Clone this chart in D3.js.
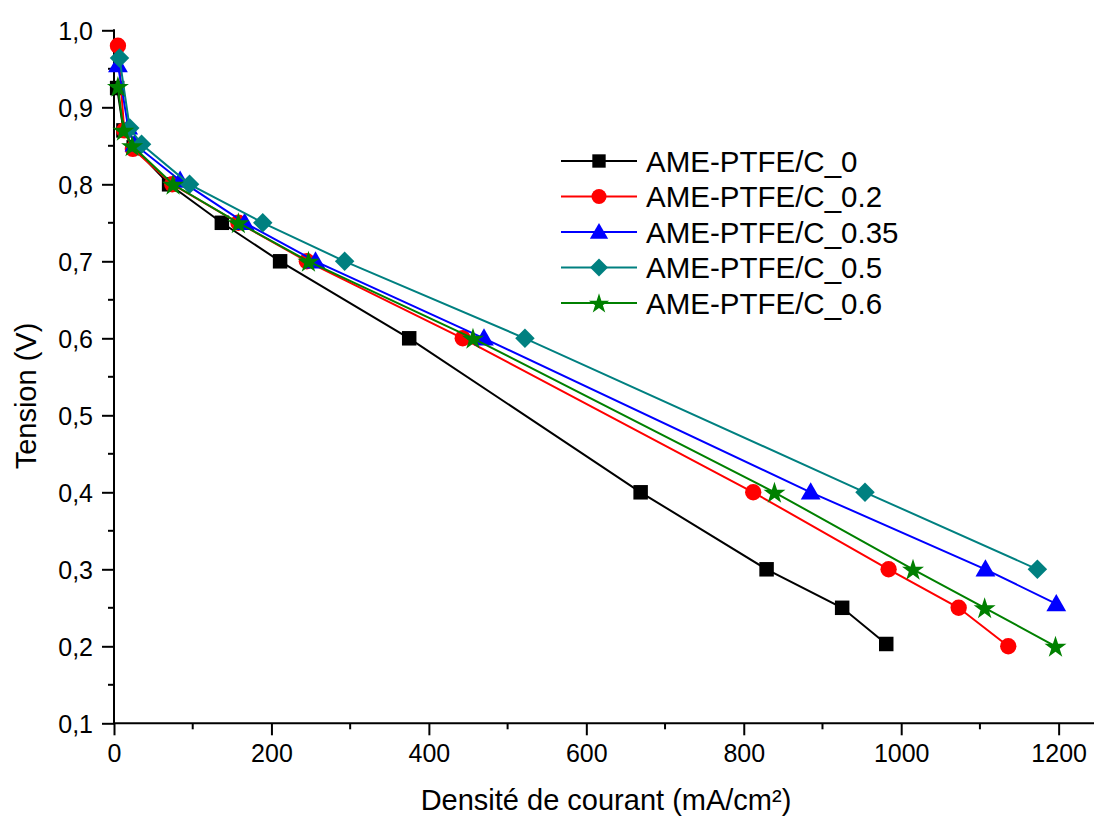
<!DOCTYPE html>
<html><head><meta charset="utf-8">
<script src="https://cdn.jsdelivr.net/npm/d3@7"></script>
<style>body{margin:0;background:#fff}svg{display:block}text{font-family:"Liberation Sans",Arial,sans-serif;fill:#000}</style>
</head><body><svg id="c" width="1094" height="820"></svg>
<script>
const seriesNames = ["AME-PTFE/C_0","AME-PTFE/C_0.2","AME-PTFE/C_0.35","AME-PTFE/C_0.5","AME-PTFE/C_0.6"];
const seriesColors = ["#000000","#ff0000","#0000ff","#008080","#008000"];
const current0   = [4, 12, 25, 70, 137, 211, 375, 669, 829, 925, 981];
const tension0   = [0.925, 0.87, 0.848, 0.80, 0.75, 0.70, 0.60, 0.40, 0.30, 0.25, 0.203];
const current02  = [5, 13, 24, 74, 158, 245, 443, 812, 984, 1073, 1136];
const tension02  = [0.98, 0.87, 0.846, 0.80, 0.75, 0.70, 0.60, 0.40, 0.30, 0.25, 0.20];
const current035 = [5, 18, 26, 84, 166, 256, 470, 885, 1107, 1197];
const tension035 = [0.955, 0.874, 0.852, 0.805, 0.75, 0.70, 0.60, 0.40, 0.30, 0.255];
const current05  = [7, 20, 35, 96, 189, 293, 522, 954, 1173];
const tension05  = [0.964, 0.873, 0.852, 0.80, 0.75, 0.70, 0.60, 0.40, 0.30];
const current06  = [5, 12, 23, 75, 158, 247, 456, 839, 1015, 1106, 1196];
const tension06  = [0.927, 0.87, 0.85, 0.80, 0.75, 0.70, 0.60, 0.40, 0.30, 0.25, 0.20];
const xTicks = [0, 200, 400, 600, 800, 1000, 1200];
const yTicks = [0.1, 0.2, 0.3, 0.4, 0.5, 0.6, 0.7, 0.8, 0.9, 1.0];
const xTitle = "Densité de courant (mA/cm²)";
const yTitle = "Tension (V)";

const xs = [current0, current02, current035, current05, current06];
const ys = [tension0, tension02, tension035, tension05, tension06];
const symbols = [
  {type: d3.symbolSquare, size: 210, rot: 0},
  {type: d3.symbolCircle, size: 210, rot: 0},
  {type: d3.symbolTriangle, size: 170, rot: 0, dy: 1.5},
  {type: d3.symbolSquare, size: 190, rot: 45},
  {type: d3.symbolStar, size: 150, rot: 0, dy: 1}
];

const svg = d3.select("#c");
const x = d3.scaleLinear().domain([0, 1250]).range([114, 1098]);
const y = d3.scaleLinear().domain([0.1, 1.0]).range([723.3, 30.3]);

// minor ticks
const g = svg.append("g");
const xMinor = d3.range(100, 1250, 200);
const yMinor = d3.range(0.15, 1.0, 0.1);
g.selectAll(".xm").data(xMinor).join("line")
  .attr("x1", d => x(d)).attr("x2", d => x(d)).attr("y1", y(0.1)).attr("y2", y(0.1) + 6)
  .attr("stroke", "#000").attr("stroke-width", 2);
g.selectAll(".ym").data(yMinor).join("line")
  .attr("y1", d => y(d)).attr("y2", d => y(d)).attr("x1", x(0)).attr("x2", x(0) - 6)
  .attr("stroke", "#000").attr("stroke-width", 2);

// axes
const fmt = d => d3.format(".1f")(d).replace(".", ",");
const xAxis = svg.append("g").attr("transform", `translate(0,${y(0.1)})`)
  .call(d3.axisBottom(x).tickValues(xTicks).tickSize(12).tickPadding(9).tickFormat(d3.format("d")));
const yAxis = svg.append("g").attr("transform", `translate(${x(0)},0)`)
  .call(d3.axisLeft(y).tickValues(yTicks).tickSize(12).tickPadding(9).tickFormat(fmt));
[xAxis, yAxis].forEach(a => {
  a.selectAll(".tick line").attr("stroke-width", 2);
  a.selectAll("text").attr("font-size", 25).attr("font-family", "Liberation Sans, Arial, sans-serif");
  a.select(".domain").remove();
});
svg.append("line").attr("x1", x(0) - 1).attr("x2", 1094).attr("y1", y(0.1)).attr("y2", y(0.1))
  .attr("stroke", "#000").attr("stroke-width", 2);
svg.append("line").attr("x1", x(0)).attr("x2", x(0)).attr("y1", y(1.0) - 1).attr("y2", y(0.1))
  .attr("stroke", "#000").attr("stroke-width", 2);
xAxis.selectAll("text").attr("dy", "0.71em");
yAxis.selectAll("text").attr("dy", "0.36em");

// titles
svg.append("text").attr("x", 606).attr("y", 810).attr("text-anchor", "middle")
  .attr("font-size", 29).text(xTitle);
svg.append("text").attr("transform", "translate(36,396) rotate(-90)").attr("text-anchor", "middle")
  .attr("font-size", 29).text(yTitle);

// series
const line = d3.line().x(d => x(d[0])).y(d => y(d[1]));
seriesNames.forEach((name, i) => {
  const pts = xs[i].map((v, j) => [v, ys[i][j]]);
  const sg = svg.append("g");
  sg.append("path").attr("d", line(pts)).attr("fill", "none")
    .attr("stroke", seriesColors[i]).attr("stroke-width", 2);
  const s = symbols[i];
  sg.selectAll("path.m").data(pts).join("path").attr("class", "m")
    .attr("d", d3.symbol().type(s.type).size(s.size))
    .attr("transform", d => `translate(${x(d[0])},${y(d[1]) + (s.dy || 0)}) rotate(${s.rot})`)
    .attr("fill", seriesColors[i]);
});

// legend
const lg = svg.append("g");
seriesNames.forEach((name, i) => {
  const cy = 161 + i * 35.5;
  lg.append("line").attr("x1", 561).attr("x2", 637).attr("y1", cy).attr("y2", cy)
    .attr("stroke", seriesColors[i]).attr("stroke-width", 2);
  const s = symbols[i];
  lg.append("path").attr("d", d3.symbol().type(s.type).size(s.size * 0.85))
    .attr("transform", `translate(599,${cy + (s.dy || 0)}) rotate(${s.rot})`)
    .attr("fill", seriesColors[i]);
  lg.append("text").attr("x", 646).attr("y", cy + 10.5).attr("font-size", 29.5).text(name);
});
</script></body></html>
